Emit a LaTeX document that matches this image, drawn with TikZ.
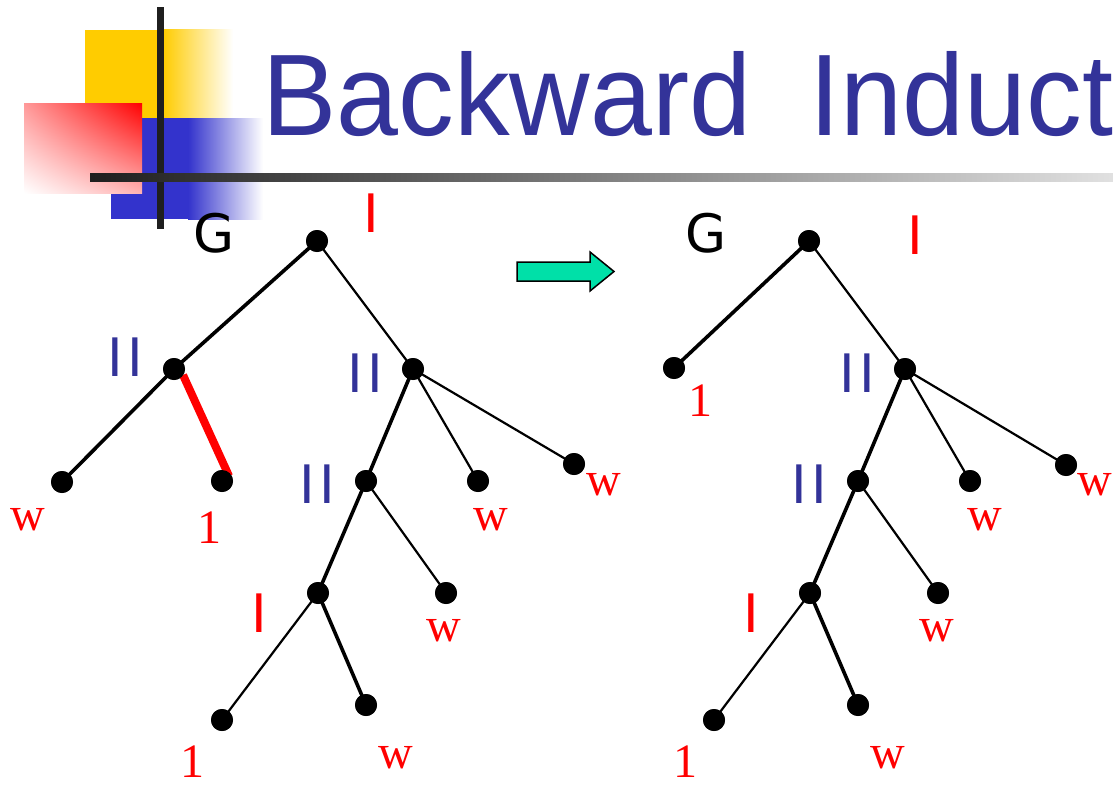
\documentclass[tikz,border=0pt]{standalone}
\usepackage{fontspec}
\usetikzlibrary{shadings}
\newfontfamily\titlefont[FakeStretch=0.96,WordSpace=1.9]{Liberation Sans}
\newfontfamily\labsans{DejaVu Sans}
\newfontfamily\labserif{Liberation Serif}
\definecolor{titleblue}{HTML}{333399}
\definecolor{decoyellow}{HTML}{FFCC00}
\definecolor{decoblue}{HTML}{3333CC}
\definecolor{labblue}{HTML}{333399}
\definecolor{arrowgreen}{HTML}{00E0A8}
\tikzset{
  dot/.style={circle,fill=black,inner sep=0pt,minimum size=22bp},
  thinedge/.style={line width=2.2bp},
  thickedge/.style={line width=3.6bp},
  redge/.style={line width=8bp,red},
  plab/.style={anchor=base,inner sep=0pt,font=\labsans\fontsize{53bp}{53bp}\selectfont},
  leaflab/.style={anchor=base,inner sep=0pt,text=red,font=\labserif\fontsize{48bp}{48bp}\selectfont},
}
\begin{document}
\begin{tikzpicture}[x=1bp,y=-1bp]
\useasboundingbox (0,0) rectangle (1113,788);
% decoration
\fill[decoyellow] (85,30) rectangle (163,118);
\shade[left color=decoyellow,right color=white] (163,30) rectangle (233,118);
\fill[decoblue] (111,118) rectangle (188,219);
\shade[left color=decoblue,right color=white] (188,118) rectangle (263,219);
\shade[upper left=red!40,upper right=red,lower left=white,lower right=red!30] (24,103) rectangle (142,193);
\fill[black!88] (157,7) rectangle (164,229);
\shade[left color=black!88,right color=black!12] (90,173) rectangle (1113,181);
% title
\node[anchor=base west,inner sep=0pt,text=titleblue,font=\titlefont\fontsize{116bp}{116bp}\selectfont] (title) at (262,135) {Backward Induct};
% arrow
\filldraw[fill=arrowgreen,draw=black,line width=1.5bp] (517,262) -- (590,262) -- (590,252) -- (614,271.5) -- (590,291) -- (590,281) -- (517,281) -- cycle;
% left tree nodes
\node[dot] (Lroot) at (317,241) {};
\node[dot] (LiiA) at (174,369) {};
\node[dot] (LiiB) at (413,369) {};
\node[dot] (LiiC) at (366,481) {};
\node[dot] (LiD) at (318,593) {};
\node[dot] (Lw1) at (62,482) {};
\node[dot] (L1a) at (222,481) {};
\node[dot] (Lw2) at (478,481) {};
\node[dot] (Lw3) at (574,464) {};
\node[dot] (Lw4) at (446,593) {};
\node[dot] (L1b) at (222,720) {};
\node[dot] (Lw5) at (366,705) {};
% left tree edges
\draw[thickedge] (Lroot.center) -- (LiiA.center);
\draw[thickedge] (LiiA.center) -- (Lw1.center);
\draw[redge] ([xshift=9bp,yshift=-6bp]LiiA.center) -- ([xshift=7bp,yshift=5bp]L1a.center);
\draw[thinedge] (Lroot.center) -- (LiiB.center);
\draw[thickedge] (LiiB.center) -- (LiiC.center);
\draw[thinedge] (LiiB.center) -- (Lw2.center);
\draw[thinedge] (LiiB.center) -- (Lw3.center);
\draw[thickedge] (LiiC.center) -- (LiD.center);
\draw[thinedge] (LiiC.center) -- (Lw4.center);
\draw[thinedge] (LiD.center) -- (L1b.center);
\draw[thickedge] (LiD.center) -- (Lw5.center);
% redraw dots on top
\foreach \n in {Lroot,LiiA,LiiB,LiiC,LiD,Lw1,L1a,Lw2,Lw3,Lw4,L1b,Lw5}
  \fill (\n.center) circle (11bp);
% left labels
\node[plab] (LgG) at (214,252) {G};
\node[plab,text=red] (LgI) at (371,232) {I};
\node[plab,text=labblue] (LgIIa) at (125,376) {I\kern4.4bp I};
\node[plab,text=labblue] (LgIIb) at (365,392) {I\kern4.4bp I};
\node[plab,text=labblue] (LgIIc) at (317,503) {I\kern4.4bp I};
\node[plab,text=red] (LgID) at (259,632) {I};
\node[leaflab] (Llw1) at (28,530) {w};
\node[leaflab] (Ll1a) at (209,543) {1};
\node[leaflab] (Llw2) at (491,530) {w};
\node[leaflab] (Llw3) at (604,495) {w};
\node[leaflab] (Llw4) at (444,641) {w};
\node[leaflab] (Ll1b) at (192,777) {1};
\node[leaflab] (Llw5) at (396,768) {w};
% right tree nodes
\node[dot] (Rroot) at (809,241) {};
\node[dot] (R1a) at (674,368) {};
\node[dot] (RiiB) at (905,369) {};
\node[dot] (RiiC) at (858,481) {};
\node[dot] (RiD) at (810,593) {};
\node[dot] (Rw2) at (970,481) {};
\node[dot] (Rw3) at (1066,465) {};
\node[dot] (Rw4) at (938,593) {};
\node[dot] (R1b) at (714,720) {};
\node[dot] (Rw5) at (858,705) {};
\draw[thickedge] (Rroot.center) -- (R1a.center);
\draw[thinedge] (Rroot.center) -- (RiiB.center);
\draw[thickedge] (RiiB.center) -- (RiiC.center);
\draw[thinedge] (RiiB.center) -- (Rw2.center);
\draw[thinedge] (RiiB.center) -- (Rw3.center);
\draw[thickedge] (RiiC.center) -- (RiD.center);
\draw[thinedge] (RiiC.center) -- (Rw4.center);
\draw[thinedge] (RiD.center) -- (R1b.center);
\draw[thickedge] (RiD.center) -- (Rw5.center);
\foreach \n in {Rroot,R1a,RiiB,RiiC,RiD,Rw2,Rw3,Rw4,R1b,Rw5}
  \fill (\n.center) circle (11bp);
% right labels
\node[plab] (RgG) at (706,252) {G};
\node[plab,text=red] (RgI) at (915,254) {I};
\node[plab,text=labblue] (RgIIb) at (857,392) {I\kern4.4bp I};
\node[plab,text=labblue] (RgIIc) at (809,503) {I\kern4.4bp I};
\node[plab,text=red] (RgID) at (751,632) {I};
\node[leaflab] (Rl1a) at (700,416) {1};
\node[leaflab] (Rlw2) at (985,530) {w};
\node[leaflab] (Rlw3) at (1095,495) {w};
\node[leaflab] (Rlw4) at (937,641) {w};
\node[leaflab] (Rl1b) at (685,777) {1};
\node[leaflab] (Rlw5) at (888,768) {w};
\end{tikzpicture}
\end{document}
